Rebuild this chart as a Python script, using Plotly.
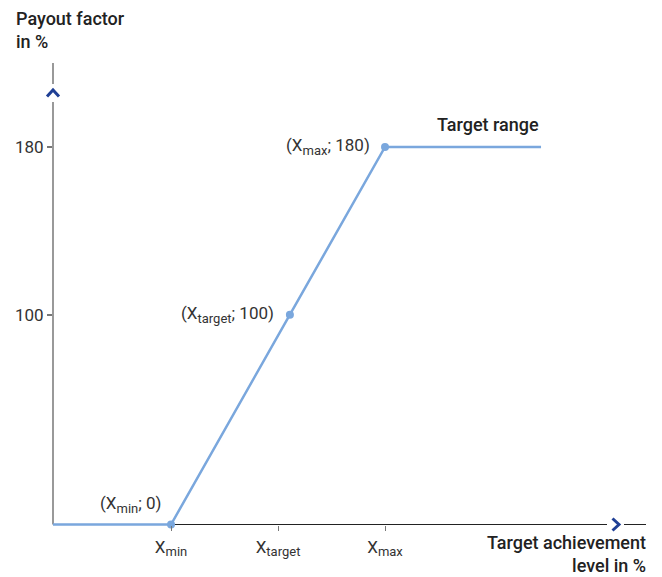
import plotly.graph_objects as go

# Data (abstract x units: X_min=1, X_target=2, X_max=3)
line_x = [-0.103, 1, 2.111, 3, 4.458]
line_y = [0, 0, 100, 180, 180]
point_x = [1, 2.111, 3]
point_y = [0, 100, 180]
xtick_vals = [1, 2, 3]
xtick_names = ["min", "target", "max"]
ytick_vals = [100, 180]
ytick_text = ["100", "180"]

BLUE = "#7aa7dd"
DARK = "#222222"
TXT = "#333333"
ARROW = "#1f3f95"
FONT = "Roboto"


def xsub(name, size=13):
    return f"X<sub><span style='font-size:{size}px'>{name}</span></sub>"


xtick_text = [xsub(n) for n in xtick_names]

fig = go.Figure()
fig.add_trace(go.Scatter(x=line_x, y=line_y, mode="lines",
                         line=dict(color=BLUE, width=2.5), hoverinfo="skip"))
fig.add_trace(go.Scatter(x=point_x, y=point_y, mode="markers",
                         marker=dict(color=BLUE, size=8), hoverinfo="skip"))

X0, X1 = -0.103, 5.439
Y0, Y1 = -5, 220
H = 472.5  # plot height px
BOT = 535.5  # plot bottom in page px
OFF = 8      # page body margin


def py(p):
    return (BOT - p) / H


def px(p):
    return (p - 53) / 593


AX0 = py(525)

fig.update_layout(
    width=662 - OFF, height=577 - OFF,
    margin=dict(l=53 - OFF, r=16, t=63 - OFF, b=577 - BOT),
    paper_bgcolor="white", plot_bgcolor="white",
    showlegend=False,
    font=dict(family=FONT, size=17, color=TXT),
    xaxis=dict(range=[X0, X1], showgrid=False, zeroline=False, showline=False,
               anchor="free", position=AX0, automargin=False,
               tickvals=xtick_vals, ticktext=xtick_text, ticks="outside",
               ticklen=5, tickcolor="#777777", tickwidth=1, ticklabelstandoff=2,
               tickfont=dict(size=17, color=TXT)),
    yaxis=dict(range=[Y0, Y1], showgrid=False, zeroline=False, showline=False,
               automargin=False,
               tickvals=ytick_vals, ticktext=ytick_text, ticks="outside",
               ticklen=5, tickcolor="#777777", tickwidth=1.5,
               tickfont=dict(size=17, color=TXT)),
)

shapes = [
    dict(type="line", xref="paper", yref="paper", x0=0, x1=0, y0=AX0, y1=py(102),
         line=dict(color="#777777", width=1.5), layer="below"),
    dict(type="line", xref="paper", yref="paper", x0=0, x1=0, y0=py(84), y1=1,
         line=dict(color="#777777", width=1.5), layer="below"),
    dict(type="line", xref="paper", yref="paper", x0=0, x1=px(607), y0=AX0, y1=AX0,
         line=dict(color=DARK, width=1), layer="below"),
    dict(type="line", xref="paper", yref="paper", x0=px(624), x1=1, y0=AX0, y1=AX0,
         line=dict(color=DARK, width=1), layer="below"),
    dict(type="path", xref="paper", yref="paper", xsizemode="pixel", ysizemode="pixel",
         xanchor=0, yanchor=py(93), path="M -6,-3.5 L 0,3 L 6,-3.5",
         line=dict(color=ARROW, width=3)),
    dict(type="path", xref="paper", yref="paper", xsizemode="pixel", ysizemode="pixel",
         xanchor=px(616), yanchor=AX0, path="M -3.5,6 L 3,0 L -3.5,-6",
         line=dict(color=ARROW, width=3)),
]
fig.update_layout(shapes=shapes)

ann = [
    dict(text="Payout factor<br>in %", xref="paper", yref="paper", x=px(14), y=py(6),
         xanchor="left", yanchor="top", align="left", showarrow=False,
         font=dict(size=18, color=DARK, weight=500)),
    dict(text="Target achievement<br>level in %", xref="paper", yref="paper", x=px(648), y=py(579),
         xanchor="right", yanchor="bottom", align="right", showarrow=False,
         font=dict(size=18, color=DARK, weight=500)),
    dict(text="Target range", x=4.458, y=190.5, xanchor="right", yanchor="middle",
         showarrow=False, font=dict(size=18, color=DARK, weight=500)),
    dict(text="(" + xsub("max") + "; 180)", x=2.88, y=180, xanchor="right", yanchor="middle",
         showarrow=False, font=dict(size=17, color=TXT)),
    dict(text="(" + xsub("target") + "; 100)", x=1.981, y=100, xanchor="right", yanchor="middle",
         showarrow=False, font=dict(size=17, color=TXT)),
    dict(text="(" + xsub("min") + "; 0)", x=0.93, y=9.5, xanchor="right", yanchor="middle",
         showarrow=False, font=dict(size=17, color=TXT)),
]
fig.update_layout(annotations=ann)

fig.write_html("out.html")
